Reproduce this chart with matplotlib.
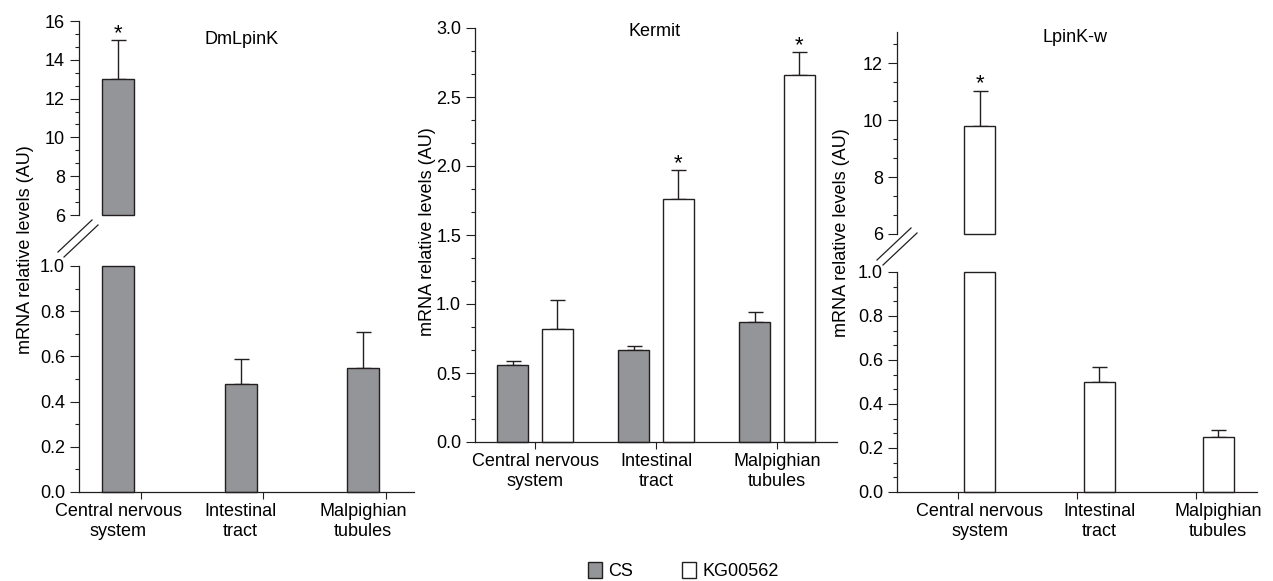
import numpy as np
import matplotlib
matplotlib.use("Agg")
import matplotlib.pyplot as plt
from matplotlib.ticker import MultipleLocator, FormatStrFormatter
from matplotlib.patches import Patch
from matplotlib.lines import Line2D

# === Data ===
categories = ["Central nervous\nsystem", "Intestinal\ntract", "Malpighian\ntubules"]

dmlpink_cs = [13.0, 0.48, 0.55]
dmlpink_cs_err = [2.0, 0.11, 0.16]
dmlpink_star = [True, False, False]

kermit_cs = [0.555, 0.67, 0.87]
kermit_cs_err = [0.035, 0.025, 0.075]
kermit_kg = [0.82, 1.76, 2.66]
kermit_kg_err = [0.21, 0.21, 0.165]
kermit_kg_star = [False, True, True]

lpinkw_kg = [9.78, 0.50, 0.25]
lpinkw_kg_err = [1.24, 0.07, 0.03]
lpinkw_star = [True, False, False]

series_names = ["CS", "KG00562"]

# === Style ===
W, H = 1273, 581
GREY = "#939598"
DARK = "#231f20"
FS = 13
plt.rcParams["font.family"] = ["Liberation Sans", "DejaVu Sans"]
plt.rcParams["font.size"] = FS
plt.rcParams["axes.linewidth"] = 0.9
plt.rcParams["axes.edgecolor"] = DARK

fig = plt.figure(figsize=(W / 100, H / 100), dpi=100)

def px_axes(x0, x1, y0, y1):
    # axes from pixel box (top-left origin)
    return fig.add_axes([x0 / W, 1 - y1 / H, (x1 - x0) / W, (y1 - y0) / H])

def style_y(ax, major, minor, fmt):
    ax.yaxis.set_major_locator(MultipleLocator(major))
    ax.yaxis.set_minor_locator(MultipleLocator(minor))
    ax.yaxis.set_major_formatter(FormatStrFormatter(fmt))
    ax.tick_params(axis="y", which="major", direction="out", length=6.5, width=0.8,
                   pad=3.5, colors=DARK, labelcolor="black", labelsize=FS)
    ax.tick_params(axis="y", which="minor", direction="out", length=3, width=0.8, colors=DARK)
    for s in ["top", "right"]:
        ax.spines[s].set_visible(False)

def style_x(ax, x, label_pos):
    ax.xaxis.remove_overlapping_locs = False
    ax.set_xticks(x)
    ax.set_xticklabels([])
    ax.set_xticks(label_pos, categories, minor=True)
    ax.tick_params(axis="x", which="major", direction="out", length=5, width=0.8, colors=DARK)
    ax.tick_params(axis="x", which="minor", length=0, pad=8, labelsize=FS, labelcolor="black")

def bars(ax, xpos, vals, errs, color, lo, hi, stars=None):
    vals = np.asarray(vals, dtype=float)
    errs = np.asarray(errs, dtype=float)
    keep = vals > lo
    heights = np.minimum(vals, hi) - lo
    ax.bar(xpos[keep], heights[keep], bottom=lo, width=BW, color=color,
           edgecolor=DARK, linewidth=1.0, zorder=2, clip_on=False)
    show = keep & (vals + errs <= hi)
    ax.errorbar(xpos[show], vals[show], yerr=[np.zeros(show.sum()), errs[show]],
                fmt="none", ecolor=DARK, elinewidth=1.0, capsize=5.4, capthick=1.0, zorder=1)
    if stars is not None:
        for xi, v, e, s in zip(xpos, vals, errs, stars):
            if s and lo < v + e <= hi:
                ax.annotate("*", (xi, v + e), xytext=(0, 1.0), textcoords="offset points",
                            ha="center", va="baseline", fontsize=16)

def break_marks(cx, cy):
    for dx, dy in [(0, 0), (6, 5)]:
        fig.add_artist(Line2D([(cx + dx - 17) / W, (cx + dx + 17) / W],
                              [1 - (cy + dy + 16) / H, 1 - (cy + dy - 16) / H],
                              color=DARK, lw=0.9))

x = np.arange(len(categories))
BW = 0.26
OFF = 0.185

# === Panel 1 : DmLpinK (broken axis) ===
ax1u = px_axes(79, 414, 21, 215)
ax1l = px_axes(79, 414, 266, 492)
for ax in (ax1u, ax1l):
    ax.set_xlim(-0.504, 2.23)
ax1u.set_ylim(6, 16)
ax1l.set_ylim(0, 1.0)
bars(ax1u, x - OFF, dmlpink_cs, dmlpink_cs_err, GREY, 6, 16, dmlpink_star)
bars(ax1l, x - OFF, dmlpink_cs, dmlpink_cs_err, GREY, 0, 1.0, dmlpink_star)
style_y(ax1u, 2, 2 / 3, "%d")
style_y(ax1l, 0.2, 0.1, "%.1f")
ax1u.spines["bottom"].set_visible(False)
ax1u.set_xticks([])
style_x(ax1l, x, x - OFF)
break_marks(75, 236)
fig.text(242 / W, 1 - 40 / H, "DmLpinK", ha="center", va="center", fontsize=FS)
fig.text(26 / W, 1 - 250 / H, "mRNA relative levels (AU)", rotation=90,
         ha="center", va="center", fontsize=FS)

# === Panel 2 : Kermit ===
ax2 = px_axes(475, 837, 28, 442)
ax2.set_xlim(-0.496, 2.496)
ax2.set_ylim(0, 3.0)
bars(ax2, x - OFF, kermit_cs, kermit_cs_err, GREY, 0, 3.0)
bars(ax2, x + OFF, kermit_kg, kermit_kg_err, "white", 0, 3.0, kermit_kg_star)
style_y(ax2, 0.5, 0.5 / 3, "%.1f")
style_x(ax2, x, x)
fig.text(655 / W, 1 - 32 / H, "Kermit", ha="center", va="center", fontsize=FS)
fig.text(427 / W, 1 - 232 / H, "mRNA relative levels (AU)", rotation=90,
         ha="center", va="center", fontsize=FS)

# === Panel 3 : LpinK-w (broken axis) ===
ax3u = px_axes(897, 1257, 32, 234)
ax3l = px_axes(897, 1257, 272, 492)
for ax in (ax3u, ax3l):
    ax.set_xlim(-0.51, 2.51)
ax3u.set_ylim(6, 13.09)
ax3l.set_ylim(0, 1.0)
bars(ax3u, x + OFF, lpinkw_kg, lpinkw_kg_err, "white", 6, 13.09, lpinkw_star)
bars(ax3l, x + OFF, lpinkw_kg, lpinkw_kg_err, "white", 0, 1.0, lpinkw_star)
style_y(ax3u, 2, 2 / 3, "%d")
style_y(ax3l, 0.2, 0.2 / 3, "%.1f")
ax3u.spines["bottom"].set_visible(False)
ax3u.set_xticks([])
style_x(ax3l, x, x + OFF)
break_marks(894, 244)
fig.text(1075 / W, 1 - 37 / H, "LpinK-w", ha="center", va="center", fontsize=FS)
fig.text(841 / W, 1 - 233 / H, "mRNA relative levels (AU)", rotation=90,
         ha="center", va="center", fontsize=FS)

# === Legend ===
handles = [Patch(facecolor=GREY, edgecolor=DARK, linewidth=1.0, label=series_names[0]),
           Patch(facecolor="white", edgecolor=DARK, linewidth=1.0, label=series_names[1])]
fig.legend(handles=handles, loc="center left", bbox_to_anchor=(588 / W, 1 - 571 / H),
           ncol=2, frameon=False, fontsize=FS, handlelength=0.78, handleheight=1.0,
           handletextpad=0.35, columnspacing=2.7, borderpad=0, borderaxespad=0)

fig.savefig("out.png", dpi=100)
